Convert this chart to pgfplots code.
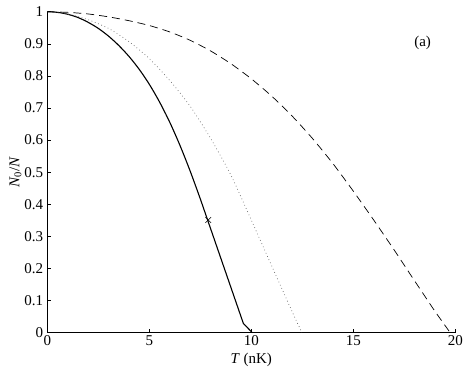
\documentclass[border=0pt]{standalone}
\usepackage{fontspec}
\setmainfont{Liberation Serif}
\usepackage{pgfplots}
\pgfplotsset{compat=1.18}
\begin{document}
\fontsize{15}{17}\selectfont
\begin{tikzpicture}
\begin{axis}[
  name=ax,
  scale only axis, width=408pt, height=321pt,
  xmin=0, xmax=20, ymin=0, ymax=1,
  axis x line*=bottom, axis y line*=left,
  xtick={0,5,10,15,20},
  ytick={0,0.1,0.2,0.3,0.4,0.5,0.6,0.7,0.8,0.9,1},
  tick align=inside, major tick length=4pt,
  tick style={black, line width=0.5pt},
  axis line style={black, line width=0.6pt},
  /pgf/number format/assume math mode=true,
  tick label style={font=\fontsize{15}{17}\selectfont},
  yticklabel style={/pgf/number format/fixed, xshift=1pt},
  xticklabel style={yshift=2pt},
  xlabel={\textit{T} (nK)},
  ylabel={\textit{N}\textsubscript{0}/\textit{N}},
  label style={font=\fontsize{15}{17}\selectfont},
  xlabel style={at={(axis description cs:0.5,-0.085)}, anchor=center},
  ylabel style={at={(axis description cs:-0.078,0.5)}, anchor=center},
  clip=false,
]
% solid
\addplot[black, line width=1.1pt, smooth, tension=0.5] coordinates {
(0,1) (0.5,0.998) (1,0.992) (1.5,0.982) (2,0.967) (2.5,0.948) (3,0.924) (3.5,0.895)
(4,0.861) (4.5,0.821) (5,0.774) (5.5,0.719) (6,0.656) (6.5,0.584) (7,0.504) (7.5,0.417)};
\addplot[black, line width=1.1pt] coordinates {(7.5,0.417) (9.61,0.029) (10.05,0)};
% dotted
\addplot[gray!80!black, line width=0.7pt, dash pattern=on 0.7pt off 2.8pt, smooth, tension=0.4] coordinates {
(0,1) (1,0.993) (2,0.975) (3,0.948) (4,0.907) (5,0.854) (6,0.786) (7,0.706) (8,0.606)
(9,0.491) (10,0.351) (11,0.208) (12,0.066) (12.48,0)};
% dashed
\addplot[black, line width=0.7pt, dash pattern=on 8pt off 5pt, smooth, tension=0.4] coordinates {
(0,1) (1,0.998) (2,0.993) (3,0.984) (4,0.972) (5,0.957) (6,0.937) (7,0.911) (8,0.878)
(9,0.838) (10,0.791) (11,0.737) (12,0.675) (13,0.605) (14,0.527) (15,0.441) (16,0.351)
(17,0.258) (18,0.162) (19,0.067) (19.75,0)};
% cross marker
\addplot[only marks, mark=x, mark size=4pt, black, line width=0.6pt] coordinates {(7.89,0.351)};
\node at (axis cs:18.4,0.902) {(a)};
\end{axis}
\path (ax.south west) ++(-47.3pt,-37.3pt) rectangle ++(471pt,370pt);
\end{tikzpicture}
\end{document}
